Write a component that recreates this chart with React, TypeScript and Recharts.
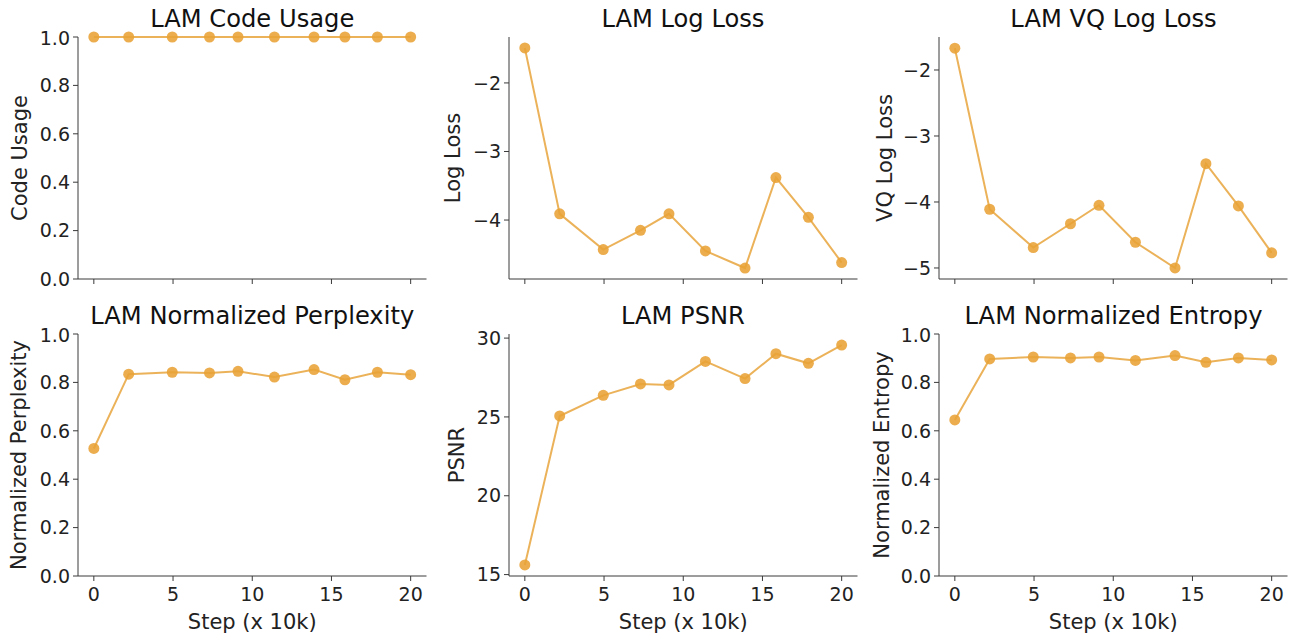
import React from "react";
import { LineChart, Line, XAxis, YAxis } from "recharts";

const steps = [0, 2.2, 4.95, 7.3, 9.1, 11.4, 13.9, 15.85, 17.9, 20];
const codeUsage = [1, 1, 1, 1, 1, 1, 1, 1, 1, 1];
const logLoss = [-1.49, -3.91, -4.43, -4.15, -3.91, -4.45, -4.7, -3.38, -3.96, -4.62];
const vqLogLoss = [-1.67, -4.11, -4.69, -4.33, -4.05, -4.61, -5.0, -3.42, -4.06, -4.77];
const perplexity = [0.527, 0.834, 0.842, 0.839, 0.846, 0.822, 0.853, 0.811, 0.842, 0.832];
const psnr = [15.61, 25.06, 26.37, 27.09, 27.03, 28.52, 27.43, 29.01, 28.4, 29.56];
const entropy = [0.645, 0.897, 0.905, 0.901, 0.905, 0.891, 0.911, 0.883, 0.901, 0.893];

const unitTicks = [0, 0.2, 0.4, 0.6, 0.8, 1.0];
const xTicks = [0, 5, 10, 15, 20];

const FONT = "'DejaVu Sans', sans-serif";
const LINE = "#E9AA48";
const DOT = "#E8A236";
const AXIS = "#3a3a3a";
const TEXT = "#222";

const YW = 78; // y axis width
const PLOT_W = 348.5;
const PLOT_H = 242;
const TOP = 10;
const RIGHT = 12;
const XH = 60;

type Panel = {
  title: string;
  ylabel: string;
  values: number[];
  domain: [number, number];
  ticks: number[];
  fmt: (v: number) => string;
  spineX: number;
  plotTop: number;
  labelDist: number;
  bottom: boolean;
  titleTop: number;
};

const minus = (v: number) => String(v).replace("-", "\u2212");
const oneDec = (v: number) => v.toFixed(1);

const panels: Panel[] = [
  { title: "LAM Code Usage", ylabel: "Code Usage", values: codeUsage, domain: [0, 1], ticks: unitTicks, fmt: oneDec, spineX: 78, plotTop: 36.5, labelDist: 58, bottom: false, titleTop: 7 },
  { title: "LAM Log Loss", ylabel: "Log Loss", values: logLoss, domain: [-4.86, -1.33], ticks: [-4, -3, -2], fmt: minus, spineX: 508.7, plotTop: 36.5, labelDist: 56, bottom: false, titleTop: 7 },
  { title: "LAM VQ Log Loss", ylabel: "VQ Log Loss", values: vqLogLoss, domain: [-5.167, -1.5], ticks: [-5, -4, -3, -2], fmt: minus, spineX: 939.3, plotTop: 36.5, labelDist: 54, bottom: false, titleTop: 7 },
  { title: "LAM Normalized Perplexity", ylabel: "Normalized Perplexity", values: perplexity, domain: [0, 1], ticks: unitTicks, fmt: oneDec, spineX: 78, plotTop: 333.5, labelDist: 59, bottom: true, titleTop: 304 },
  { title: "LAM PSNR", ylabel: "PSNR", values: psnr, domain: [14.91, 30.26], ticks: [15, 20, 25, 30], fmt: (v) => String(v), spineX: 508.7, plotTop: 333.5, labelDist: 52, bottom: true, titleTop: 304 },
  { title: "LAM Normalized Entropy", ylabel: "Normalized Entropy", values: entropy, domain: [0, 1], ticks: unitTicks, fmt: oneDec, spineX: 939.3, plotTop: 333.5, labelDist: 57, bottom: true, titleTop: 304 },
];

function SmallChart({ p }: { p: Panel }) {
  const data = steps.map((s, i) => ({ step: s, value: p.values[i] }));
  return (
    <>
      <div
        style={{
          position: "absolute",
          left: p.spineX,
          top: p.titleTop,
          width: PLOT_W,
          textAlign: "center",
          fontFamily: FONT,
          fontSize: 24.2,
          lineHeight: "24px",
          color: "#111",
          whiteSpace: "nowrap",
        }}
      >
        {p.title}
      </div>
      <div style={{ position: "absolute", left: p.spineX - YW, top: p.plotTop - TOP }}>
        <LineChart
          width={YW + PLOT_W + RIGHT}
          height={TOP + PLOT_H + XH}
          data={data}
          margin={{ top: TOP, right: RIGHT, left: 0, bottom: 0 }}
        >
          <XAxis
            dataKey="step"
            type="number"
            domain={[-1, 21]}
            ticks={xTicks}
            height={XH}
            stroke={AXIS}
            tickSize={5}
            tickMargin={7}
            tick={{ fill: TEXT, fontSize: 19, fontFamily: FONT }}
            tickFormatter={p.bottom ? (v: number) => String(v) : () => ""}
            label={
              p.bottom
                ? { value: "Step (x 10k)", position: "insideBottom", offset: 7.5, fill: TEXT, fontSize: 21, fontFamily: FONT }
                : undefined
            }
          />
          <YAxis
            type="number"
            domain={p.domain}
            ticks={p.ticks}
            width={YW}
            stroke={AXIS}
            tickSize={5}
            tickMargin={3}
            tick={{ fill: TEXT, fontSize: 19, fontFamily: FONT }}
            tickFormatter={p.fmt}
            label={{
              value: p.ylabel,
              angle: -90,
              position: "insideLeft",
              offset: YW - p.labelDist,
              fill: TEXT,
              fontSize: 21,
              fontFamily: FONT,
              style: { textAnchor: "middle" },
            }}
          />
          <Line
            dataKey="value"
            stroke={LINE}
            strokeWidth={2}
            strokeOpacity={0.9}
            dot={{ r: 5.5, fill: DOT, stroke: "none", fillOpacity: 0.88 }}
            activeDot={false}
            isAnimationActive={false}
          />
        </LineChart>
      </div>
    </>
  );
}

export default function App() {
  return (
    <div style={{ position: "absolute", left: 0, top: 0, width: 1291, height: 637, background: "#fff" }}>
      {panels.map((p) => (
        <SmallChart key={p.title} p={p} />
      ))}
    </div>
  );
}
